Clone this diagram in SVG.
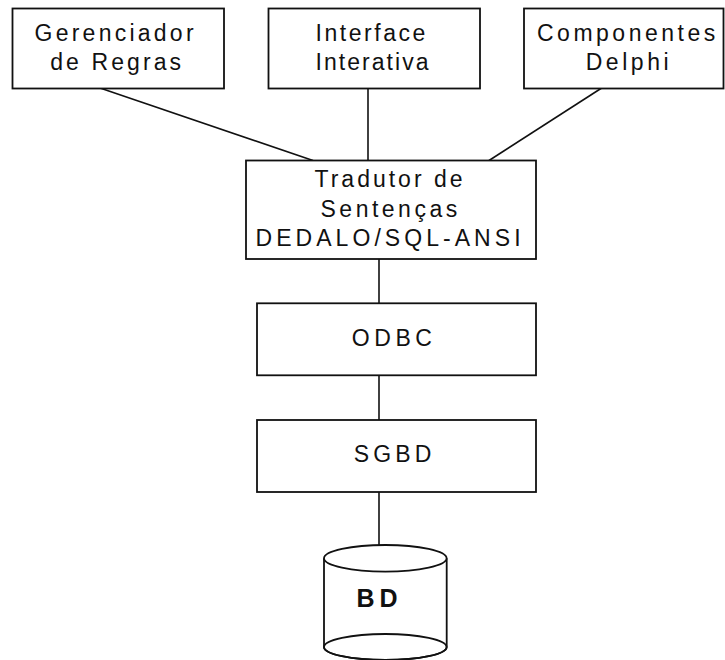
<svg xmlns="http://www.w3.org/2000/svg" width="725" height="660" viewBox="0 0 725 660">
  <style>
    .box { fill: #ffffff; stroke: #111111; stroke-width: 1.8; }
    .link { fill: none; stroke: #111111; stroke-width: 1.6; }
    .lbl { font-family: "Liberation Sans", Arial, sans-serif; font-size: 23px; fill: #111111; }
    .bold { font-family: "Liberation Sans", Arial, sans-serif; font-size: 25px; font-weight: bold; fill: #111111; }
  </style>
  <rect width="725" height="660" fill="#ffffff"/>

  <!-- connectors -->
  <g id="connectors">
    <line class="link" x1="100" y1="88" x2="313" y2="160.5"/>
    <line class="link" x1="368" y1="88" x2="368" y2="160.5"/>
    <line class="link" x1="601.7" y1="88" x2="489" y2="160.5"/>
    <line class="link" x1="379" y1="259" x2="379" y2="303.3"/>
    <line class="link" x1="379" y1="375.3" x2="379" y2="420"/>
    <line class="link" x1="379" y1="492" x2="379" y2="545"/>
  </g>

  <g id="gerenciador">
    <rect class="box" x="12.5" y="8.5" width="211.5" height="80"/>
    <text class="lbl" x="34.5" y="40.7" letter-spacing="3.25">Gerenciador</text>
    <text class="lbl" x="50.2" y="69.5" letter-spacing="3.1">de Regras</text>
  </g>

  <g id="interface">
    <rect class="box" x="268.5" y="8.5" width="211.5" height="80"/>
    <text class="lbl" x="315.5" y="40.7" letter-spacing="2.55">Interface</text>
    <text class="lbl" x="315.5" y="70" letter-spacing="2.05">Interativa</text>
  </g>

  <g id="componentes">
    <rect class="box" x="524" y="8.5" width="199.5" height="80"/>
    <text class="lbl" x="537" y="40.5" letter-spacing="3.5">Componentes</text>
    <text class="lbl" x="585.7" y="69.5" letter-spacing="3.55">Delphi</text>
  </g>

  <g id="tradutor">
    <rect class="box" x="246" y="160.5" width="290" height="98.5"/>
    <text class="lbl" x="314.5" y="187.3" letter-spacing="3.0">Tradutor de</text>
    <text class="lbl" x="320.5" y="216.7" letter-spacing="3.5">Sentenças</text>
    <text class="lbl" x="255.5" y="246" letter-spacing="4.05">DEDALO/SQL-ANSI</text>
  </g>

  <g id="odbc">
    <rect class="box" x="257" y="303.3" width="279" height="72"/>
    <text class="lbl" x="351.8" y="346" letter-spacing="4.55">ODBC</text>
  </g>

  <g id="sgbd">
    <rect class="box" x="257" y="420" width="279" height="72"/>
    <text class="lbl" x="353.8" y="462.3" letter-spacing="4.15">SGBD</text>
  </g>

  <g id="bd">
    <path class="box" d="M324 558.3 L324 647 A61.3 13 0 0 0 446.7 647 L446.7 558.3"/>
    <ellipse class="box" cx="385.3" cy="647" rx="61.3" ry="13" style="fill:none"/>
    <ellipse class="box" cx="385.3" cy="558.3" rx="61.3" ry="13.3"/>
    <text class="bold" x="356.5" y="607" letter-spacing="5">BD</text>
  </g>
</svg>
